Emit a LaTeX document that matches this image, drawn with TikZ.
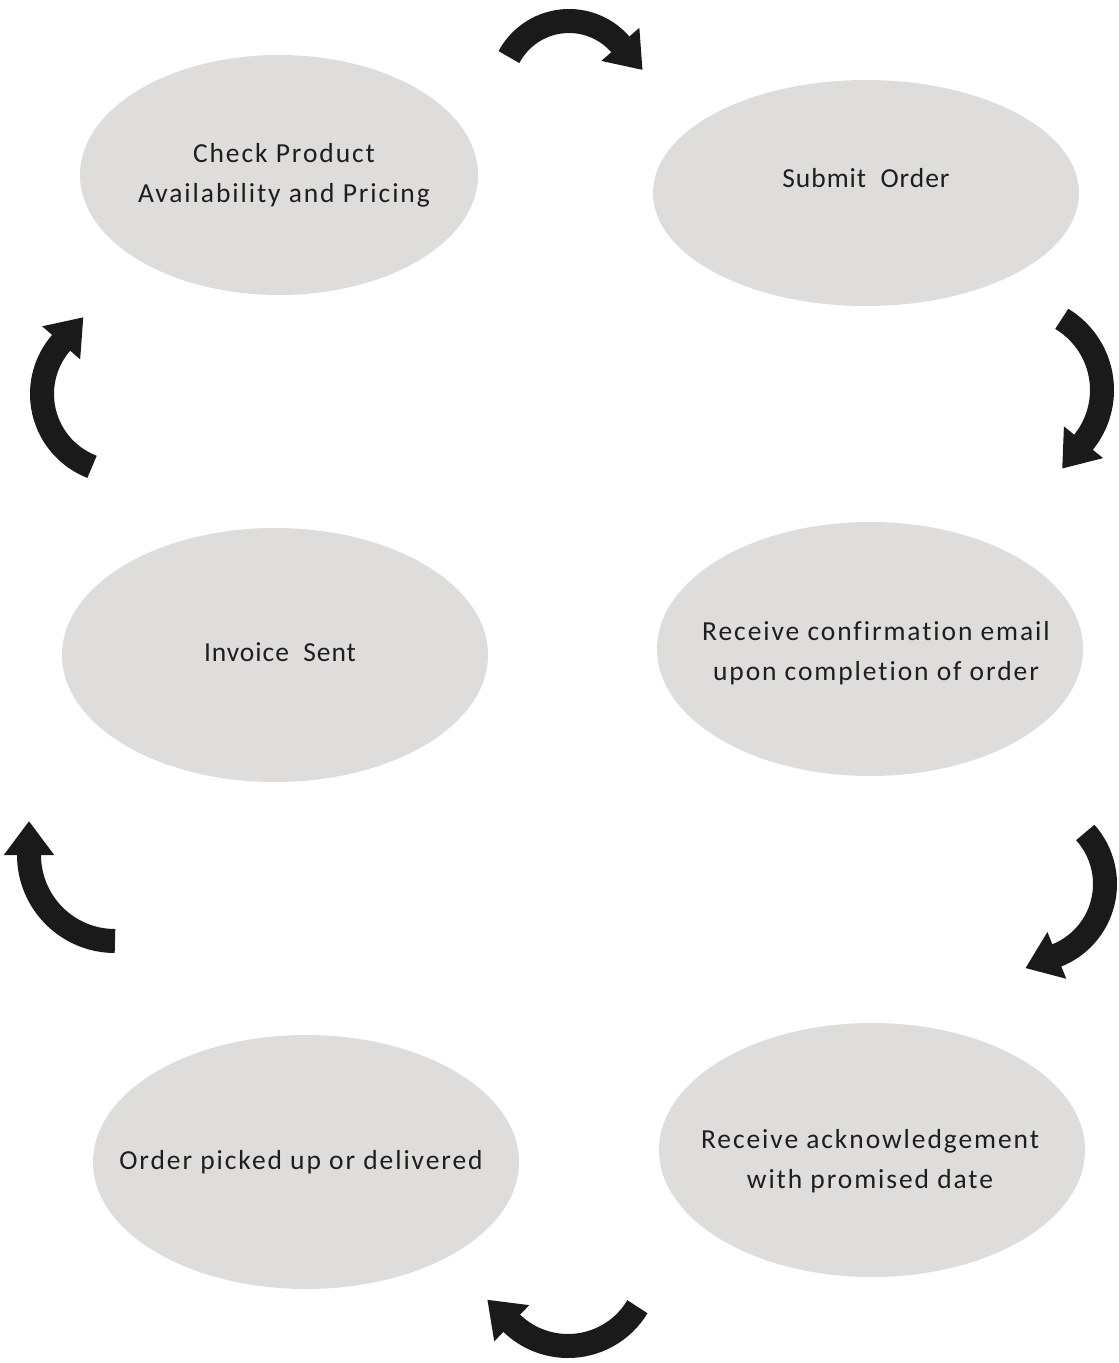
\documentclass[tikz,border=0pt]{standalone}
\usepackage{fontspec}
\setmainfont{Carlito}[Ligatures={NoCommon,NoRare,NoContextual}]
\usetikzlibrary{positioning,shapes.geometric,arrows.meta}
\definecolor{StageGray}{RGB}{222,221,220}
\definecolor{TextGray}{RGB}{30,30,30}
\definecolor{ArrowBlack}{RGB}{26,26,26}

\begin{document}
\begin{tikzpicture}[
    x=1pt, y=-1pt,
    stage/.style={ellipse,fill=StageGray,inner sep=0pt,minimum width=426pt,minimum height=254pt},
    stagetext/.style={text=TextGray,align=center,inner sep=0pt,font=\fontsize{27.5}{40}\selectfont\addfontfeature{LetterSpace=3.5}},
    spaced/.style={font=\fontsize{27.5}{40}\selectfont\addfontfeature{LetterSpace=7}},
    cyclearrow/.style={line width=24pt,draw=ArrowBlack,-{Triangle[length=34pt,width=48pt]}}
]
\useasboundingbox (0,0) rectangle (1119,1363);

% stages of the ordering cycle
\node[stage,minimum width=398pt,minimum height=240pt] (check) at (279,175) {};
\node[stage,minimum height=226pt] (submit) at (866,193) {};
\node[stage] (confirm) at (870,649) {};
\node[stage] (ack) at (872,1150) {};
\node[stage] (picked) at (306,1162) {};
\node[stage] (invoice) at (275,655) {};

% texts of the stages
\node[stagetext,spaced] (checktext) at (284,175) {Check Product\\Availability and Pricing};
\node[stagetext] (submittext) at (866,178) {Submit\ \ Order};
\node[stagetext,spaced] (confirmtext) at (876,653) {Receive confirmation email\\upon completion of order};
\node[stagetext,spaced] (acktext) at (870,1161) {Receive acknowledgement\\with promised date};
\node[stagetext,spaced] (pickedtext) at (301,1162) {Order picked up or delivered};
\node[stagetext] (invoicetext) at (280,652) {Invoice\ \ Sent};

% curved arrows between the stages (arc centres)
\coordinate (c1) at (569,89);
\coordinate (c2) at (1019,390);
\coordinate (c3) at (1028,884);
\coordinate (c4) at (568,1265);
\coordinate (c5) at (115,855);
\coordinate (c6) at (120,394);

\draw[cyclearrow] (c1) ++(-152:68) arc[start angle=-152,end angle=-41,radius=68] -- ++(49:34);
\draw[cyclearrow] (c2) ++(-59:83) arc[start angle=-59,end angle=39,radius=83] -- ++(129:34);
\draw[cyclearrow] (c3) ++(-42:77) arc[start angle=-42,end angle=68,radius=77] -- ++(158:34);
\draw[cyclearrow] (c4) ++(31:81) arc[start angle=31,end angle=134,radius=81] -- ++(224:34);
\draw[cyclearrow] (c5) ++(90:86) arc[start angle=90,end angle=180,radius=86] -- ++(270:34);
\draw[cyclearrow] (c6) ++(111:78) arc[start angle=111,end angle=221,radius=78] -- ++(311:34);
\end{tikzpicture}
\end{document}
